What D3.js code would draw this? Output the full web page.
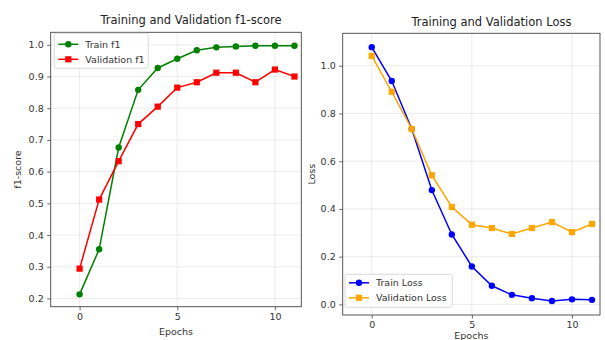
<!DOCTYPE html>
<html>
<head>
<meta charset="utf-8">
<script src="https://cdn.jsdelivr.net/npm/d3@7"></script>
<style>
  html, body { margin: 0; padding: 0; background: #fff; }
  svg { display: block; font-family: "DejaVu Sans", sans-serif; }
</style>
</head>
<body>
<svg id="chart" width="605" height="340"></svg>
<script>
// Per-epoch training history
const epochs = [0, 1, 2, 3, 4, 5, 6, 7, 8, 9, 10, 11];
const trainF1 = [0.213, 0.355, 0.676, 0.858, 0.927, 0.956, 0.983, 0.992, 0.995, 0.997, 0.997, 0.997];
const valF1 = [0.294, 0.512, 0.633, 0.750, 0.805, 0.865, 0.882, 0.912, 0.912, 0.882, 0.922, 0.900];
const trainLoss = [1.078, 0.936, 0.735, 0.479, 0.293, 0.159, 0.078, 0.040, 0.026, 0.014, 0.021, 0.019];
const valLoss = [1.041, 0.891, 0.735, 0.541, 0.408, 0.334, 0.320, 0.295, 0.320, 0.345, 0.303, 0.337];

const xTicks = [0, 5, 10];
const f1Ticks = [0.2, 0.3, 0.4, 0.5, 0.6, 0.7, 0.8, 0.9, 1.0];
const lossTicks = [0.0, 0.2, 0.4, 0.6, 0.8, 1.0];

const svg = d3.select("#chart");

function panel(opts) {
  const { left, right, top, bottom, xDomain, yDomain, yTicks, yFmt,
          title, titleX, titleY, ylabel, ylabelX, xlabelY, series, legend } = opts;
  const x = d3.scaleLinear().domain(xDomain).range([left, right]);
  const y = d3.scaleLinear().domain(yDomain).range([bottom, top]);
  const g = svg.append("g");

  // grid
  g.append("g").selectAll("line.gx").data(xTicks).join("line")
    .attr("x1", d => x(d)).attr("x2", d => x(d))
    .attr("y1", top).attr("y2", bottom)
    .attr("stroke", "#b0b0b0").attr("stroke-opacity", 0.3).attr("stroke-width", 0.8);
  g.append("g").selectAll("line.gy").data(yTicks).join("line")
    .attr("x1", left).attr("x2", right)
    .attr("y1", d => y(d)).attr("y2", d => y(d))
    .attr("stroke", "#b0b0b0").attr("stroke-opacity", 0.3).attr("stroke-width", 0.8);

  // axes
  const xAxis = d3.axisBottom(x).tickValues(xTicks).tickFormat(d3.format("d"))
    .tickSizeInner(3.5).tickSizeOuter(0).tickPadding(3);
  const yAxis = d3.axisLeft(y).tickValues(yTicks).tickFormat(yFmt)
    .tickSizeInner(3.5).tickSizeOuter(0).tickPadding(3.5);
  const gx = g.append("g").attr("transform", `translate(0,${bottom})`).call(xAxis);
  const gy = g.append("g").attr("transform", `translate(${left},0)`).call(yAxis);
  [gx, gy].forEach(a => {
    a.select(".domain").remove();
    a.selectAll("line").attr("stroke", "#444").attr("stroke-width", 0.8);
    a.selectAll("text").attr("fill", "#333").style("font-size", "9.5px")
      .style("font-family", "DejaVu Sans, sans-serif");
  });

  // series
  series.forEach(s => {
    const line = d3.line().x((d, i) => x(epochs[i])).y(d => y(d));
    g.append("path").datum(s.values).attr("d", line)
      .attr("fill", "none").attr("stroke", s.color).attr("stroke-width", 1.5);
    const m = g.append("g").selectAll("*").data(s.values);
    if (s.marker === "circle") {
      m.join("circle").attr("cx", (d, i) => x(epochs[i])).attr("cy", d => y(d))
        .attr("r", 3.2).attr("fill", s.color);
    } else {
      m.join("rect").attr("x", (d, i) => x(epochs[i]) - 3.1).attr("y", d => y(d) - 3.1)
        .attr("width", 6.2).attr("height", 6.2).attr("fill", s.color);
    }
  });

  // frame
  g.append("rect").attr("x", left).attr("y", top)
    .attr("width", right - left).attr("height", bottom - top)
    .attr("fill", "none").attr("stroke", "#444").attr("stroke-width", 0.9);

  // legend
  const lg = g.append("g");
  lg.append("rect").attr("x", legend.x).attr("y", legend.y)
    .attr("width", legend.w).attr("height", legend.h).attr("rx", 2)
    .attr("fill", "#fff").attr("fill-opacity", 0.85)
    .attr("stroke", "#d0d0d0").attr("stroke-width", 0.8);
  series.forEach((s, i) => {
    const yy = legend.y + legend.first + i * legend.step;
    const x0 = legend.x + 4, x1 = x0 + 20;
    lg.append("line").attr("x1", x0).attr("x2", x1).attr("y1", yy).attr("y2", yy)
      .attr("stroke", s.color).attr("stroke-width", 1.5);
    if (s.marker === "circle") {
      lg.append("circle").attr("cx", (x0 + x1) / 2).attr("cy", yy).attr("r", 3.2).attr("fill", s.color);
    } else {
      lg.append("rect").attr("x", (x0 + x1) / 2 - 3.1).attr("y", yy - 3.1)
        .attr("width", 6.2).attr("height", 6.2).attr("fill", s.color);
    }
    lg.append("text").attr("x", x1 + 7).attr("y", yy).attr("dy", "0.35em")
      .attr("fill", "#333").style("font-size", "9.5px").text(s.name);
  });

  // titles and labels
  g.append("text").attr("x", titleX).attr("y", titleY).attr("text-anchor", "middle")
    .attr("fill", "#222").style("font-size", "11.5px").text(title);
  g.append("text").attr("x", (left + right) / 2).attr("y", xlabelY).attr("text-anchor", "middle")
    .attr("fill", "#333").style("font-size", "9.5px").text("Epochs");
  g.append("text").attr("transform", `translate(${ylabelX},${(top + bottom) / 2}) rotate(-90)`)
    .attr("text-anchor", "middle").attr("fill", "#333").style("font-size", "9.5px").text(ylabel);
}

panel({
  left: 50.7, right: 301.3, top: 32.3, bottom: 306.7,
  xDomain: [-1.48, 11.35], yDomain: [0.174, 1.0395],
  yTicks: f1Ticks, yFmt: d3.format(".1f"),
  title: "Training and Validation f1-score", titleX: 191, titleY: 24,
  ylabel: "f1-score", ylabelX: 21, xlabelY: 335,
  series: [
    { name: "Train f1", values: trainF1, color: "#008000", marker: "circle" },
    { name: "Validation f1", values: valF1, color: "#ff0000", marker: "square" }
  ],
  legend: { x: 54.3, y: 33.3, w: 94, h: 35, first: 11, step: 15 }
});

panel({
  left: 342.7, right: 600, top: 33.3, bottom: 315,
  xDomain: [-1.45, 11.4], yDomain: [-0.0445, 1.136],
  yTicks: lossTicks, yFmt: d3.format(".1f"),
  title: "Training and Validation Loss", titleX: 491.5, titleY: 26,
  ylabel: "Loss", ylabelX: 315, xlabelY: 339,
  series: [
    { name: "Train Loss", values: trainLoss, color: "#0000ff", marker: "circle" },
    { name: "Validation Loss", values: valLoss, color: "#ffa500", marker: "square" }
  ],
  legend: { x: 345, y: 274.3, w: 107.3, h: 33, first: 8.5, step: 15 }
});
</script>
</body>
</html>
